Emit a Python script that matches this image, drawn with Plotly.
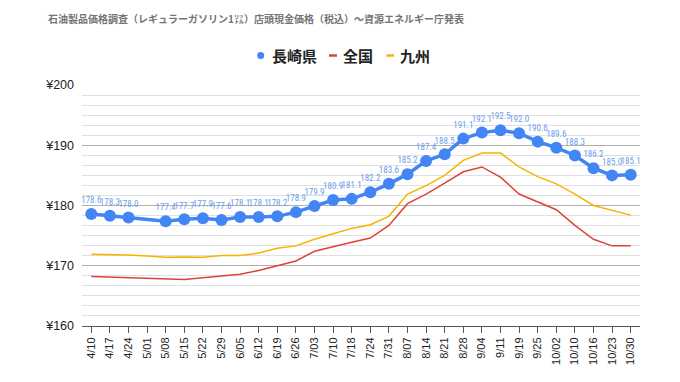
import plotly.graph_objects as go

dates = ["4/10","4/17","4/24","5/01","5/08","5/15","5/22","5/29","6/05","6/12",
         "6/19","6/26","7/03","7/10","7/18","7/24","7/31","8/07","8/14","8/21",
         "8/28","9/04","9/11","9/19","9/25","10/02","10/10","10/16","10/23","10/30"]

nagasaki = [178.6,178.3,178.0,None,177.4,177.7,177.9,177.6,178.1,178.1,
            178.2,178.9,179.9,180.9,181.1,182.2,183.6,185.2,187.4,188.5,
            191.1,192.1,192.5,192.0,190.6,189.6,188.3,186.2,185.0,185.1]

zenkoku = [168.2,168.1,168.0,167.9,167.8,167.7,168.0,168.3,168.6,169.2,
           170.0,170.8,172.4,173.2,173.9,174.6,176.7,180.3,181.9,183.7,
           185.6,186.4,184.7,181.9,180.6,179.3,176.7,174.4,173.3,173.3]

kyushu = [171.9,171.9,171.8,171.6,171.4,171.45,171.4,171.7,171.7,172.1,
          172.9,173.3,174.4,175.3,176.2,176.8,178.2,181.9,183.3,185.0,
          187.5,188.7,188.7,186.4,184.8,183.6,181.9,180.0,179.2,178.4]

series_names = ["長崎県", "全国", "九州"]

labels = ["" if v is None else f"{v:.1f}" for v in nagasaki]

FONT = "Liberation Sans, Arial, Noto Sans CJK JP, sans-serif"
LABEL_FONT = "Liberation Sans Narrow, Arial Narrow, Roboto Condensed, Liberation Sans, sans-serif"
CJK = "Noto Sans CJK JP, sans-serif"
BLUE, RED, YELLOW = "#4285F4", "#DB4437", "#F4B400"

fig = go.Figure()
fig.add_trace(go.Scatter(
    x=dates, y=zenkoku, name=series_names[1], mode="lines",
    line=dict(color=RED, width=1.5),
))
fig.add_trace(go.Scatter(
    x=dates, y=kyushu, name=series_names[2], mode="lines",
    line=dict(color=YELLOW, width=1.5),
))
fig.add_trace(go.Scatter(
    x=dates, y=nagasaki, name=series_names[0], mode="lines+markers+text",
    connectgaps=True,
    line=dict(color=BLUE, width=3.5),
    marker=dict(color=BLUE, size=12),
    text=labels, textposition="top center",
    textfont=dict(size=9, color="#6d9eeb", family=LABEL_FONT),
    cliponaxis=False,
))

# page body has an 8px margin; figure is sized/offset to compensate
W, H = 672, 374
L, T, R, B = 74, 77, 40, 56
PW, PH = W - L - R, H - T - B

def px(xpage):
    return (xpage - 8 - L) / PW

def py(ypage):
    return (H - B - (ypage - 8)) / PH

LEG_Y = 55.5
shapes = [
    dict(type="circle", xref="paper", yref="paper",
         xsizemode="pixel", ysizemode="pixel",
         xanchor=px(260.7), yanchor=py(LEG_Y),
         x0=-3.5, x1=3.5, y0=-3.5, y1=3.5,
         fillcolor=BLUE, line=dict(width=0)),
    dict(type="line", xref="paper", yref="paper",
         x0=px(329), x1=px(337), y0=py(LEG_Y), y1=py(LEG_Y),
         line=dict(color=RED, width=2.5)),
    dict(type="line", xref="paper", yref="paper",
         x0=px(386.5), x1=px(394), y0=py(LEG_Y), y1=py(LEG_Y),
         line=dict(color=YELLOW, width=2.5)),
]
annotations = [
    dict(text=f"<b>{series_names[0]}</b>", x=px(270), y=py(LEG_Y)),
    dict(text=f"<b>{series_names[1]}</b>", x=px(341), y=py(LEG_Y)),
    dict(text=f"<b>{series_names[2]}</b>", x=px(397.5), y=py(LEG_Y)),
]
for a in annotations:
    a.update(xref="paper", yref="paper", xanchor="left", yanchor="middle",
             showarrow=False, font=dict(size=15, color="#222222", family=CJK))

fig.update_layout(
    width=W, height=H,
    margin=dict(l=L, r=R, t=T, b=B, autoexpand=False),
    paper_bgcolor="white", plot_bgcolor="white",
    font=dict(family=FONT, color="#222222"),
    title=dict(
        text="<b>石油製品価格調査（レギュラーガソリン1㍑）店頭現金価格（税込）～資源エネルギー庁発表</b>",
        x=40/W, xanchor="left", xref="container",
        y=1-11/H, yanchor="middle", yref="container",
        font=dict(size=10, color="#757575", family=CJK),
    ),
    showlegend=False,
    shapes=shapes, annotations=annotations,
)

fig.update_xaxes(
    type="category", range=[-0.5, 29.5], automargin=False,
    tickangle=-90, tickfont=dict(size=11, color="#222222"),
    ticks="outside", ticklen=6, tickcolor="#555555",
    showline=True, linecolor="#555555", linewidth=1,
    showgrid=False, zeroline=False,
)
fig.update_yaxes(
    range=[160, 200], dtick=10, tick0=160, tickprefix="¥", automargin=False,
    tickfont=dict(size=12.5, color="#222222"),
    ticks="", ticklabelstandoff=7,
    showgrid=True, gridcolor="#b0b0b0", gridwidth=1,
    minor=dict(dtick=10/6, tick0=160, showgrid=True, gridcolor="#e0e0e0", gridwidth=1),
    zeroline=False, showline=False,
)

fig.write_html("out.html")
